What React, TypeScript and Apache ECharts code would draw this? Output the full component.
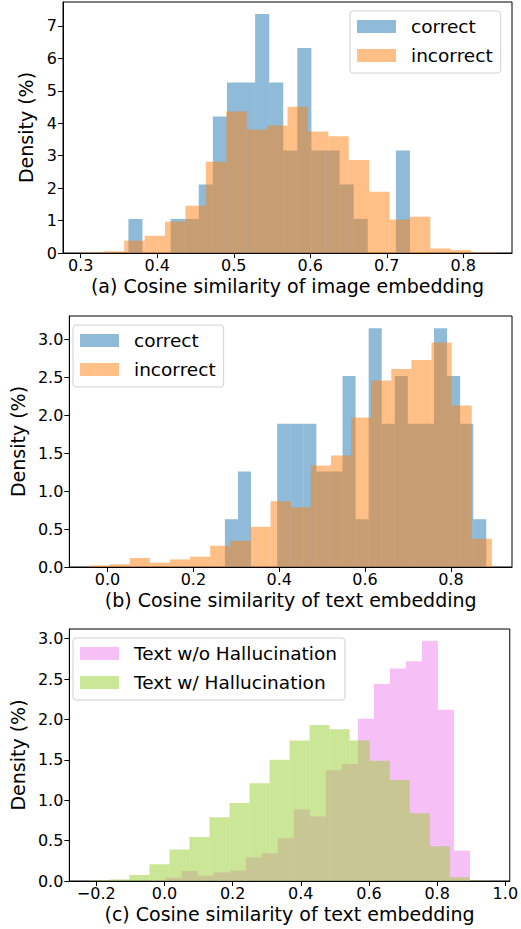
import React, { useEffect, useRef } from "react";
import * as echarts from "echarts";

// ---------- data (densities in %) ----------
// Panel (a): image embedding
const aCorrectRange = [0.3623, 0.7303];
const aCorrect = [1.05, 0, 0, 1.05, 1.05, 2.11, 4.21, 5.26, 5.26, 7.37, 5.26, 3.16, 6.32, 3.16, 3.16, 2.11, 1.05, 0, 0, 3.16];
const aIncorrectRange = [0.3035, 0.837];
const aIncorrect = [0.02, 0.05, 0.38, 0.53, 0.97, 1.46, 2.81, 4.36, 3.81, 3.93, 4.51, 3.75, 3.6, 2.87, 1.89, 1.03, 1.12, 0.14, 0.09, 0.02];

// Panel (b): text embedding
const bCorrectRange = [0.2735, 0.8825];
const bCorrect = [0.63, 1.26, 0, 0, 1.89, 1.89, 1.89, 1.26, 1.26, 2.52, 0.63, 3.15, 1.89, 2.52, 1.89, 1.89, 3.15, 2.52, 1.89, 0.63];
const bIncorrectRange = [-0.042, 0.8955];
const bIncorrect = [0.02, 0.035, 0.118, 0.057, 0.1, 0.136, 0.28, 0.345, 0.53, 0.866, 0.787, 1.34, 1.47, 1.97, 2.46, 2.61, 2.73, 2.96, 2.13, 0.372];

// Panel (c): hallucination
const cNoHalRange = [-0.0431, 0.896];
const cNoHal = [0.012, 0.041, 0.124, 0.066, 0.107, 0.13, 0.29, 0.343, 0.53, 0.884, 0.8, 1.37, 1.45, 2.01, 2.44, 2.63, 2.72, 2.975, 2.12, 0.376];
const cHalRange = [-0.2204, 0.9545];
const cHal = [0.01, 0.02, 0.074, 0.207, 0.39, 0.545, 0.79, 0.967, 1.21, 1.5, 1.74, 1.93, 1.88, 1.74, 1.49, 1.25, 0.84, 0.43, 0.045, 0.004];

// tick values
const aXTicks = [0.3, 0.4, 0.5, 0.6, 0.7, 0.8];
const aYTicks = [0, 1, 2, 3, 4, 5, 6, 7];
const bXTicks = [0.0, 0.2, 0.4, 0.6, 0.8];
const bYTicks = [0, 0.5, 1.0, 1.5, 2.0, 2.5, 3.0];
const cXTicks = [-0.2, 0.0, 0.2, 0.4, 0.6, 0.8, 1.0];
const cYTicks = [0, 0.5, 1.0, 1.5, 2.0, 2.5, 3.0];

const xLabels = [
  "(a) Cosine similarity of image embedding",
  "(b) Cosine similarity of text embedding",
  "(c) Cosine similarity of text embedding",
];

const BLUE = "rgba(31,119,180,0.5)";
const ORANGE = "rgba(255,127,14,0.5)";
const VIOLET = "rgba(238,130,238,0.5)";
const GREEN = "rgba(154,205,50,0.5)";
const FONT = "DejaVu Sans";

function toBins(range: number[], vals: number[]) {
  const n = vals.length;
  const [lo, hi] = range;
  return vals.map((v, i) => [lo + ((hi - lo) * i) / n, lo + ((hi - lo) * (i + 1)) / n, v]);
}

function histSeries(name: string, color: string, range: number[], vals: number[], idx: number) {
  return {
    type: "custom",
    name,
    xAxisIndex: idx,
    yAxisIndex: idx,
    itemStyle: { color },
    encode: { x: [0, 1], y: 2 },
    data: toBins(range, vals),
    renderItem: (_p: any, api: any) => {
      const x0 = api.value(0);
      const x1 = api.value(1);
      const y = api.value(2);
      const a = api.coord([x0, y]);
      const b = api.coord([x1, 0]);
      return {
        type: "rect",
        shape: { x: a[0], y: a[1], width: b[0] - a[0], height: b[1] - a[1] },
        style: { fill: color },
      };
    },
  };
}

const fmtNum = (digits: number) => (v: number) => {
  const s = Math.abs(v).toFixed(digits);
  return v < -1e-9 ? "\u2212" + s : s;
};

function xAxis(idx: number, min: number, max: number, ticks: number[], name: string) {
  return {
    type: "value",
    gridIndex: idx,
    min,
    max,
    name,
    nameLocation: "middle",
    nameGap: 23,
    nameTextStyle: { fontFamily: FONT, fontSize: 19, color: "#000" },
    axisLine: { show: true, onZero: false, lineStyle: { color: "#000", width: 1 } },
    axisTick: { show: true, length: 5, customValues: ticks, lineStyle: { color: "#000" } },
    axisLabel: {
      customValues: ticks,
      formatter: fmtNum(1),
      fontFamily: FONT,
      fontSize: 16,
      color: "#000",
      margin: 4,
    },
    splitLine: { show: false },
  };
}

function yAxis(idx: number, max: number, ticks: number[], digits: number, gap: number) {
  return {
    type: "value",
    gridIndex: idx,
    min: 0,
    max,
    name: "Density (%)",
    nameLocation: "middle",
    nameGap: gap,
    nameTextStyle: { fontFamily: FONT, fontSize: 19, color: "#000" },
    axisLine: { show: true, onZero: false, lineStyle: { color: "#000", width: 1 } },
    axisTick: { show: true, length: 5, customValues: ticks, lineStyle: { color: "#000" } },
    axisLabel: {
      customValues: ticks,
      formatter: fmtNum(digits),
      fontFamily: FONT,
      fontSize: 16,
      color: "#000",
      margin: 6,
    },
    splitLine: { show: false },
  };
}

function legend(left: number, top: number, names: string[]) {
  return {
    orient: "vertical",
    left,
    top,
    data: names,
    icon: "rect",
    itemWidth: 39,
    itemHeight: 13,
    itemGap: 10,
    padding: [6, 8, 8, 7],
    borderColor: "#d0d0d0",
    borderWidth: 1,
    borderRadius: 3,
    backgroundColor: "rgba(255,255,255,0.8)",
    selectedMode: false,
    textStyle: { fontFamily: FONT, fontSize: 18.5, color: "#000", padding: [0, 0, 0, 10] },
  };
}

export default function App() {
  const ref = useRef<HTMLDivElement>(null);
  useEffect(() => {
    if (!ref.current) return;
    const chart = echarts.init(ref.current, undefined, { renderer: "svg" });
    const gridBase = { left: 63, width: 449, show: true, borderColor: "#000", borderWidth: 1, backgroundColor: "transparent" };
    chart.setOption({
      animation: false,
      grid: [
        { ...gridBase, top: 2, height: 251 },
        { ...gridBase, top: 316, height: 251 },
        { ...gridBase, top: 629, height: 252 },
      ],
      xAxis: [
        xAxis(0, 0.2768, 0.8637, aXTicks, xLabels[0]),
        xAxis(1, -0.0889, 0.9424, bXTicks, xLabels[1]),
        xAxis(2, -0.279, 1.013, cXTicks, xLabels[2]),
      ],
      yAxis: [
        yAxis(0, 7.74, aYTicks, 0, 22),
        yAxis(1, 3.31, bYTicks, 1, 37),
        yAxis(2, 3.12, cYTicks, 1, 37),
      ],
      legend: [
        legend(350, 11, ["correct", "incorrect"]),
        legend(73, 325, ["correct", "incorrect"]),
        legend(73, 638, ["Text w/o Hallucination", "Text w/ Hallucination"]),
      ],
      series: [
        histSeries("correct", BLUE, aCorrectRange, aCorrect, 0),
        histSeries("incorrect", ORANGE, aIncorrectRange, aIncorrect, 0),
        histSeries("correct", BLUE, bCorrectRange, bCorrect, 1),
        histSeries("incorrect", ORANGE, bIncorrectRange, bIncorrect, 1),
        histSeries("Text w/o Hallucination", VIOLET, cNoHalRange, cNoHal, 2),
        histSeries("Text w/ Hallucination", GREEN, cHalRange, cHal, 2),
      ],
    });
    return () => chart.dispose();
  }, []);
  return <div ref={ref} style={{ position: "absolute", left: 0, top: 0, width: 521, height: 929 }} />;
}
